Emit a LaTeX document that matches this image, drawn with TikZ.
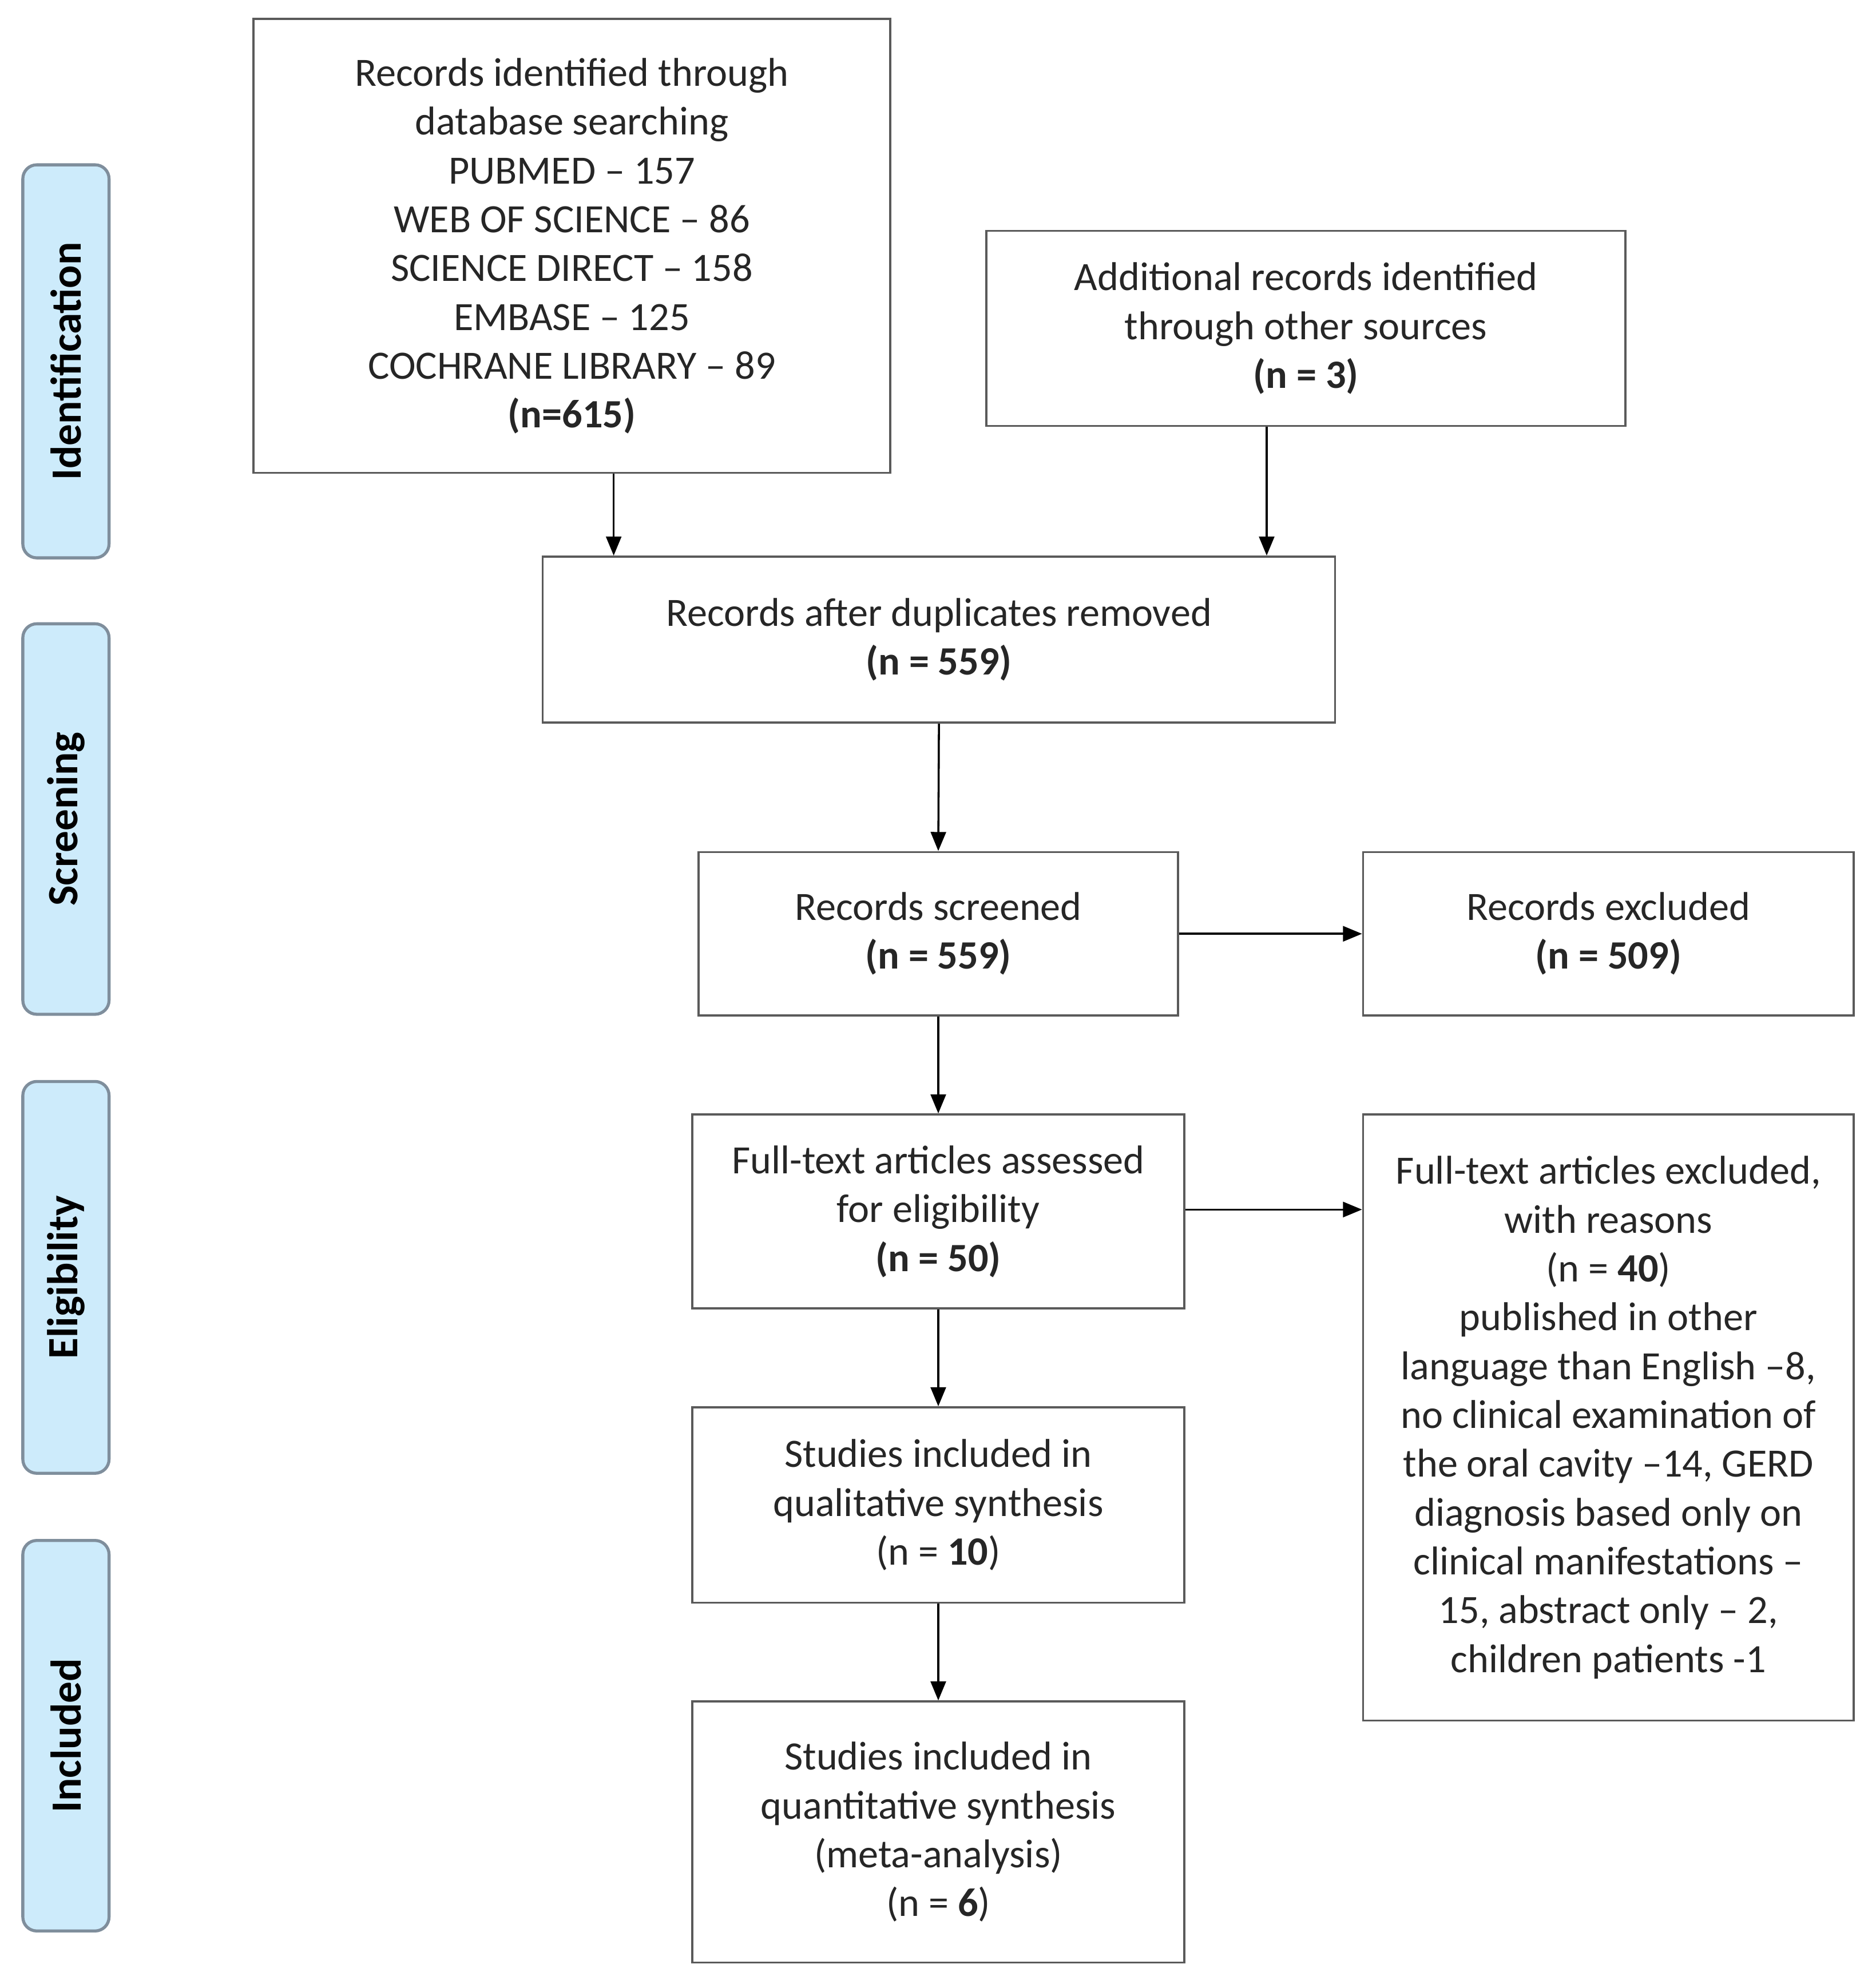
\documentclass[tikz,border=0pt]{standalone}
\usepackage{fontspec}
\setmainfont{Carlito}
\usetikzlibrary{arrows.meta}
\definecolor{boxgray}{HTML}{5A5A5A}
\definecolor{pillfill}{HTML}{CDEBFB}
\definecolor{pillline}{HTML}{7F8E9C}
\definecolor{txt}{HTML}{262626}
\newcommand{\mainfs}{\fontsize{31.7}{38.5}\selectfont}
\newcommand{\pillfs}{\fontsize{34}{40}\selectfont\bfseries}
\begin{document}
\begin{tikzpicture}[x=1pt,y=-1pt,
  box/.style={draw=boxgray, line width=1.6pt, align=center, inner sep=0pt, font=\mainfs, text=txt, fill=white},
  pill/.style={draw=pillline, fill=pillfill, line width=2.4pt, rounded corners=11pt, inner sep=0pt, minimum width=68pt},
  pilltext/.style={rotate=90, font=\pillfs, text=black},
  arr/.style={-{Triangle[length=15pt,width=12pt]}, line width=1.6pt, black}]
\useasboundingbox (0,0) rectangle (1476,1568);
\fill[white] (0,0) rectangle (1476,1568);
% phase pills
\node[pill, minimum height=310pt] (pid) at (52,285) {};
\node[pilltext] (tid) at (pid.center) {Identification};
\node[pill, minimum height=308pt] (psc) at (52,646) {};
\node[pilltext] (tsc) at (psc.center) {Screening};
\node[pill, minimum height=309pt] (pel) at (52,1007.5) {};
\node[pilltext] (tel) at (pel.center) {Eligibility};
\node[pill, minimum height=308pt] (pin) at (52,1369) {};
\node[pilltext] (tin) at (pin.center) {Included};
% boxes
\node[box, minimum width=502pt, minimum height=358pt] (db) at (451,194)
  {Records identified through\\ database searching\\ PUBMED – 157\\ WEB OF SCIENCE – 86\\ SCIENCE DIRECT – 158\\ EMBASE – 125\\ COCHRANE LIBRARY – 89\\ \textbf{(n=615)}};
\node[box, minimum width=504pt, minimum height=154pt] (add) at (1030,259)
  {Additional records identified\\ through other sources\\ \textbf{(n = 3)}};
\node[box, minimum width=625pt, minimum height=131pt] (dup) at (740.5,504.5)
  {Records after duplicates removed\\ \textbf{(n = 559)}};
\node[box, minimum width=378pt, minimum height=129pt] (scr) at (740,736.5)
  {Records screened\\ \textbf{(n = 559)}};
\node[box, minimum width=387pt, minimum height=129pt] (exc) at (1268.5,736.5)
  {Records excluded\\ \textbf{(n = 509)}};
\node[box, minimum width=388pt, minimum height=153pt] (ft) at (740,955.5)
  {Full-text articles assessed\\ for eligibility\\ \textbf{(n = 50)}};
\node[box, minimum width=387pt, minimum height=478pt] (fte) at (1268.5,1118)
  {Full-text articles excluded,\\ with reasons\\ (n = \textbf{40})\\ published in other\\ language than English –8,\\ no clinical examination of\\ the oral cavity –14, GERD\\ diagnosis based only on\\ clinical manifestations –\\ 15, abstract only – 2,\\ children patients -1};
\node[box, minimum width=388pt, minimum height=154pt] (qual) at (740,1187)
  {Studies included in\\ qualitative synthesis\\ (n = \textbf{10})};
\node[box, minimum width=388pt, minimum height=206pt] (quant) at (740,1445)
  {Studies included in\\ quantitative synthesis\\ (meta-analysis)\\ (n = \textbf{6})};
% connectors
\draw[arr] ([xshift=33pt]db.south) -- ([xshift=33pt]db.south |- dup.north);
\draw[arr] ([xshift=-31pt]add.south) -- ([xshift=-31pt]add.south |- dup.north);
\draw[arr] (dup.south) -- (scr.north);
\draw[arr] (scr.east) -- (exc.west);
\draw[arr] (scr.south) -- (ft.north);
\draw[arr] ([yshift=1.5pt]ft.east) -- ([yshift=1.5pt]ft.east -| fte.west);
\draw[arr] (ft.south) -- (qual.north);
\draw[arr] (qual.south) -- (quant.north);
\end{tikzpicture}
\end{document}
